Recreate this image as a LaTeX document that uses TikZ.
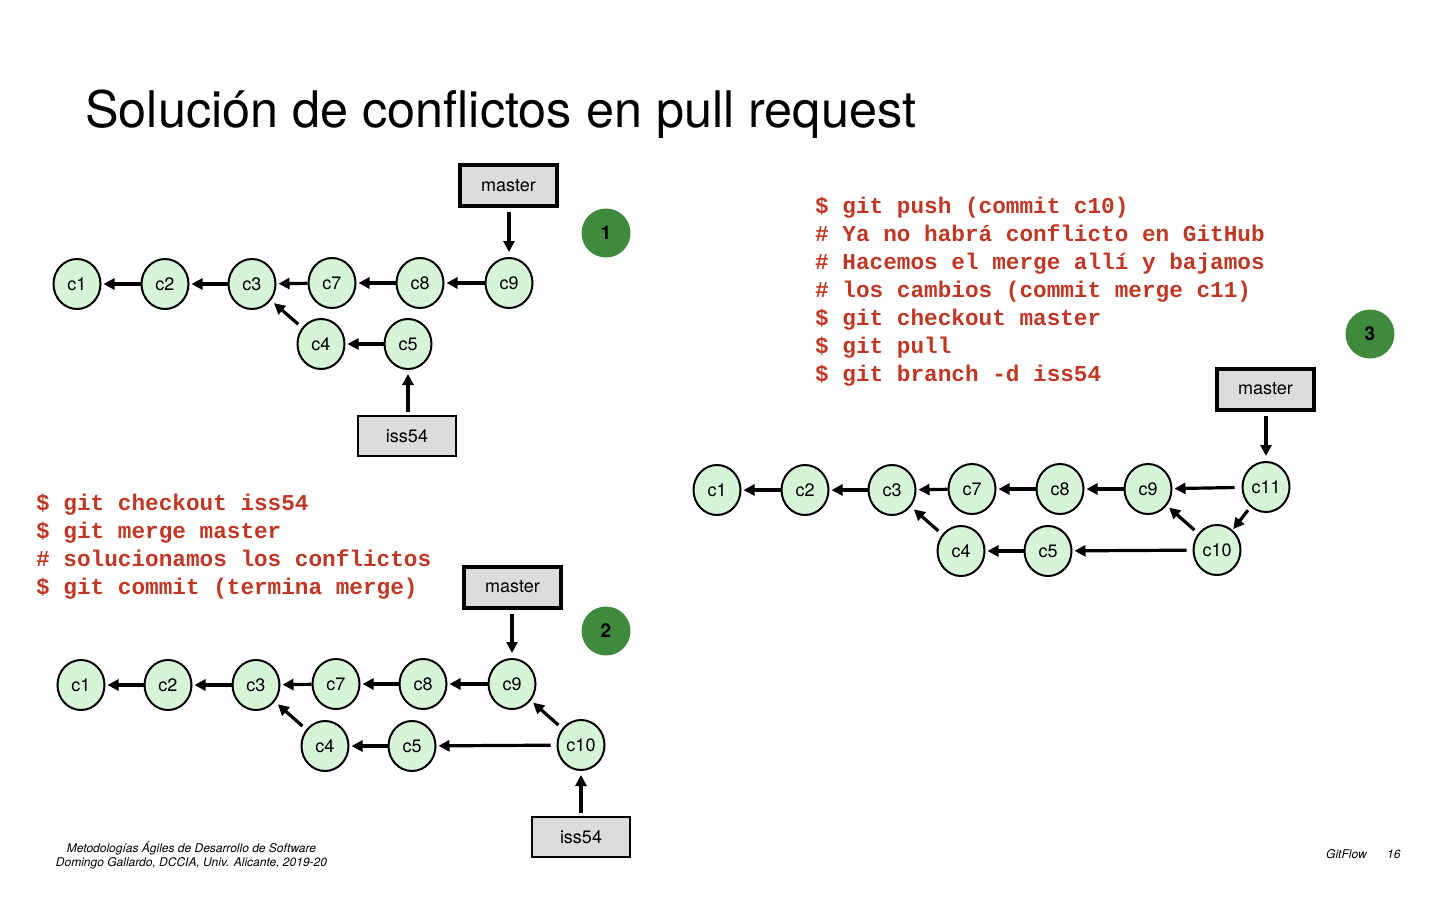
\documentclass[tikz,border=0pt]{standalone}
\usepackage{fontspec}
\setmainfont{TeX Gyre Heros}
\newfontfamily\codefont{Liberation Mono}
\usetikzlibrary{arrows.meta,shapes.geometric}
\definecolor{commitfill}{RGB}{213,245,214}
\definecolor{boxgray}{RGB}{220,220,223}
\definecolor{badgegreen}{RGB}{64,138,62}
\definecolor{codered}{RGB}{192,56,36}
\tikzset{
  commit/.style={ellipse, draw=black, line width=2pt, fill=commitfill,
    minimum width=47pt, minimum height=50pt, inner sep=0pt,
    font=\fontsize{18}{20}\selectfont},
  headbox/.style={draw=black, line width=4pt, fill=boxgray,
    minimum width=97pt, minimum height=41pt, inner sep=0pt,
    font=\fontsize{18}{20}\selectfont},
  branchbox/.style={draw=black, line width=1.8pt, fill=boxgray,
    minimum width=98pt, minimum height=40pt, inner sep=0pt,
    font=\fontsize{18}{20}\selectfont},
  badge/.style={circle, fill=badgegreen, minimum size=49pt, inner sep=0pt,
    font=\fontsize{19}{20}\selectfont\bfseries},
  ptr/.style={line width=3.2pt, -{Triangle[length=11pt,width=11pt]},
    shorten >=2pt, shorten <=0pt},
  code/.style={anchor=base west, inner sep=0pt, text=codered,
    font=\codefont\bfseries\fontsize{22.7}{28}\selectfont},
  foot/.style={inner sep=0pt, font=\itshape\fontsize{12}{14}\selectfont},
}
\begin{document}
\begin{tikzpicture}[x=1pt,y=-1pt]
\useasboundingbox (0,0) rectangle (1440,900);

% title
\node[anchor=base west, inner sep=0pt, font=\fontsize{50.4}{56}\selectfont]
  (title) at (85,127) {Solución de conflictos en pull request};

% ---------- step 1 ----------
\node[commit] (a1) at (77,284) {c1};
\node[commit] (a2) at (165,284) {c2};
\node[commit] (a3) at (252,284) {c3};
\node[commit] (a7) at (332,283) {c7};
\node[commit] (a8) at (420,283) {c8};
\node[commit] (a9) at (509,283) {c9};
\node[commit] (a4) at (321,344) {c4};
\node[commit] (a5) at (408,344) {c5};
\node[headbox] (amaster) at (508.5,185.5) {master};
\node[branchbox] (aiss) at (407,436) {iss54};
\node[badge] (b1) at (606,233) {1};
\draw[ptr] (a2) -- (a1);
\draw[ptr] (a3) -- (a2);
\draw[ptr] (a7) -- (a3);
\draw[ptr] (a8) -- (a7);
\draw[ptr] (a9) -- (a8);
\draw[ptr, shorten <=5pt, shorten >=4pt] (a4) -- (a3);
\draw[ptr] (a5) -- (a4);
\draw[ptr, shorten <=4pt, shorten >=5pt] (amaster.south -| a9) -- (a9);
\draw[ptr, shorten <=3pt, shorten >=4pt] (aiss.north -| a5) -- (a5);

% ---------- step 2 ----------
\node[code] (l1) at (36,510) {\$ git checkout iss54};
\node[code] (l2) at (36,538) {\$ git merge master};
\node[code] (l3) at (36,566) {\# solucionamos los conflictos};
\node[code] (l4) at (36,594) {\$ git commit (termina merge)};

\node[commit] (d1) at (81,685) {c1};
\node[commit] (d2) at (168,685) {c2};
\node[commit] (d3) at (256,685) {c3};
\node[commit] (d7) at (336,684) {c7};
\node[commit] (d8) at (423,684) {c8};
\node[commit] (d9) at (512,684) {c9};
\node[commit] (d4) at (325,746) {c4};
\node[commit] (d5) at (412,746) {c5};
\node[commit] (d10) at (581,745) {c10};
\node[headbox] (dmaster) at (512.5,587) {master};
\node[branchbox] (diss) at (581,837) {iss54};
\node[badge] (b2) at (606,631) {2};
\draw[ptr] (d2) -- (d1);
\draw[ptr] (d3) -- (d2);
\draw[ptr] (d7) -- (d3);
\draw[ptr] (d8) -- (d7);
\draw[ptr] (d9) -- (d8);
\draw[ptr, shorten <=5pt, shorten >=4pt] (d4) -- (d3);
\draw[ptr] (d5) -- (d4);
\draw[ptr, shorten <=6pt, shorten >=2pt] (d10) -- (d5);
\draw[ptr, shorten <=5pt, shorten >=3pt] (d10) -- (d9);
\draw[ptr, shorten <=4pt, shorten >=5pt] (dmaster.south -| d9) -- (d9);
\draw[ptr, shorten <=3pt, shorten >=4pt] (diss.north -| d10) -- (d10);

% ---------- step 3 ----------
\node[code] (m1) at (815,213) {\$ git push (commit c10)};
\node[code] (m2) at (815,241) {\# Ya no habrá conflicto en GitHub};
\node[code] (m3) at (815,269) {\# Hacemos el merge allí y bajamos};
\node[code] (m4) at (815,297) {\# los cambios (commit merge c11)};
\node[code] (m5) at (815,325) {\$ git checkout master};
\node[code] (m6) at (815,353) {\$ git pull};
\node[code] (m7) at (815,381) {\$ git branch -d iss54};

\node[commit] (e1) at (717,490) {c1};
\node[commit] (e2) at (805,490) {c2};
\node[commit] (e3) at (892,490) {c3};
\node[commit] (e7) at (972,489) {c7};
\node[commit] (e8) at (1060,489) {c8};
\node[commit] (e9) at (1148,489) {c9};
\node[commit] (e11) at (1266,487) {c11};
\node[commit] (e4) at (961,551) {c4};
\node[commit] (e5) at (1048,551) {c5};
\node[commit] (e10) at (1217,550) {c10};
\node[headbox] (emaster) at (1265.5,389) {master};
\node[badge] (b3) at (1370,334) {3};
\draw[ptr] (e2) -- (e1);
\draw[ptr] (e3) -- (e2);
\draw[ptr] (e7) -- (e3);
\draw[ptr] (e8) -- (e7);
\draw[ptr] (e9) -- (e8);
\draw[ptr, shorten <=5pt, shorten >=4pt] (e4) -- (e3);
\draw[ptr] (e5) -- (e4);
\draw[ptr, shorten <=6pt, shorten >=2pt] (e10) -- (e5);
\draw[ptr, shorten <=5pt, shorten >=3pt] (e10) -- (e9);
\draw[ptr, shorten <=7pt, shorten >=2pt] (e11) -- (e9);
\draw[ptr, shorten <=4pt, shorten >=1pt] (e11) -- (e10);
\draw[ptr, shorten <=4pt, shorten >=5pt] (emaster.south -| e11) -- (e11);

% footer
\node[foot, align=center] (credits) at (191.5,855)
  {Metodologías Ágiles de Desarrollo de Software\\Domingo Gallardo, DCCIA, Univ. Alicante, 2019-20};
\node[foot, anchor=base west] (section) at (1326,858) {GitFlow};
\node[foot, anchor=base west] (page) at (1387,858) {16};
\end{tikzpicture}
\end{document}
